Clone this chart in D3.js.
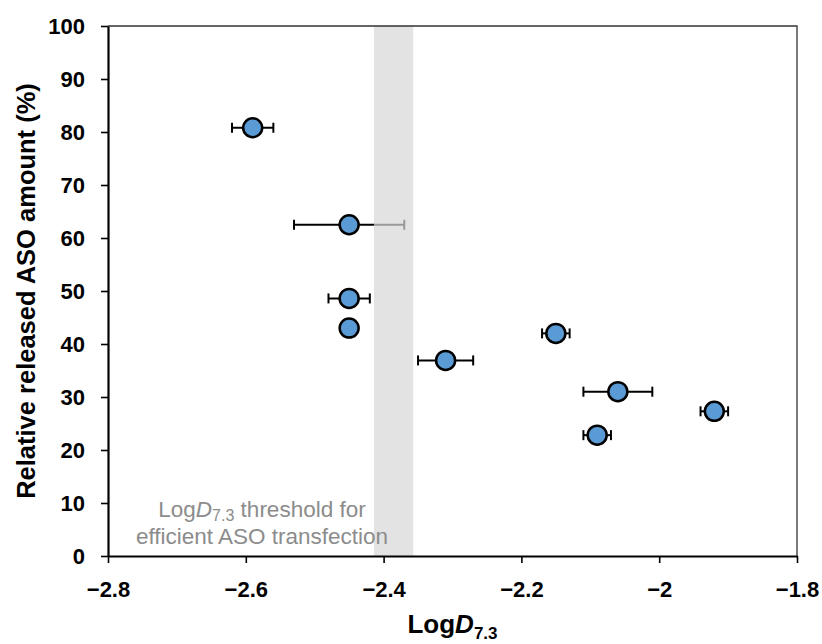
<!DOCTYPE html>
<html>
<head>
<meta charset="utf-8">
<script src="https://cdn.jsdelivr.net/npm/d3@7"></script>
<style>
  body { margin: 0; background: #fff; }
  svg { font-family: "Liberation Sans", Arial, sans-serif; }
</style>
</head>
<body>
<div id="chart"></div>
<script>
// data
const logD = [-2.59, -2.45, -2.45, -2.45, -2.31, -2.15, -2.06, -2.09, -1.92];
const released = [80.8, 62.5, 48.6, 43.0, 36.9, 42.0, 31.0, 22.8, 27.3];
const logDErr = [0.03, 0.08, 0.03, 0, 0.04, 0.02, 0.05, 0.02, 0.02];
const thresholdBand = [-2.414, -2.357];
const xTicks = [-2.8, -2.6, -2.4, -2.2, -2, -1.8];
const yTicks = [0, 10, 20, 30, 40, 50, 60, 70, 80, 90, 100];

const width = 822, height = 644;
const margin = { top: 26, right: 25, bottom: 88, left: 108 };

const svg = d3.select("#chart").append("svg")
  .attr("width", width)
  .attr("height", height);

const x = d3.scaleLinear().domain([-2.8, -1.8]).range([margin.left, width - margin.right]);
const y = d3.scaleLinear().domain([0, 100]).range([height - margin.bottom, margin.top]);

// threshold band
const bx0 = x(thresholdBand[0]), bx1 = x(thresholdBand[1]);
svg.append("rect")
  .attr("x", bx0)
  .attr("y", y(100))
  .attr("width", bx1 - bx0)
  .attr("height", y(0) - y(100))
  .attr("fill", "#e3e3e3");

// frame (top and right)
svg.append("path")
  .attr("d", `M${x(-2.8)},${y(100)}H${x(-1.8)}V${y(0)}`)
  .attr("fill", "none")
  .attr("stroke", "#333")
  .attr("stroke-width", 1.3);

// axes
const xAxis = svg.append("g")
  .attr("transform", `translate(0,${y(0)})`)
  .call(d3.axisBottom(x).tickValues(xTicks).tickSize(7).tickPadding(18).tickSizeOuter(0)
    .tickFormat(d3.format("")));
const yAxis = svg.append("g")
  .attr("transform", `translate(${x(-2.8)},0)`)
  .call(d3.axisLeft(y).tickValues(yTicks).tickSize(7).tickPadding(16).tickSizeOuter(0));

[xAxis, yAxis].forEach(g => {
  g.attr("font-family", null).attr("font-size", null);
  g.select(".domain").attr("stroke", "#000").attr("stroke-width", 2.2);
  g.selectAll(".tick line").attr("stroke", "#000").attr("stroke-width", 1.6);
  g.selectAll(".tick text")
    .attr("fill", "#000")
    .attr("font-size", 22)
    .attr("font-weight", "bold");
});

// threshold annotation
const note = svg.append("text")
  .attr("text-anchor", "middle")
  .attr("fill", "#8c8c8c")
  .attr("font-size", 22.5);
const l1 = note.append("tspan").attr("x", 262).attr("y", 517);
l1.append("tspan").text("Log");
l1.append("tspan").attr("font-style", "italic").text("D");
l1.append("tspan").attr("font-size", 16).attr("dy", 4).text("7.3");
l1.append("tspan").attr("dy", -4).text(" threshold for");
note.append("tspan").attr("x", 262).attr("y", 543.5).text("efficient ASO transfection");

// error bars: the part lying over the grey band is drawn in grey
const pts = logD.map((v, i) => ({ x: v, y: released[i], e: logDErr[i] }));
const bars = svg.append("g").attr("stroke-width", 2);
const inBand = px => px >= bx0 && px <= bx1;
pts.filter(d => d.e > 0).forEach(d => {
  const x0 = x(d.x - d.e), x1 = x(d.x + d.e), yy = y(d.y);
  const segs = [[x0, Math.min(x1, Math.max(x0, bx0)), "#000"],
                [Math.max(x0, bx0), Math.min(x1, bx1), "#999"],
                [Math.max(x0, bx1), x1, "#000"]];
  segs.filter(s => s[1] > s[0]).forEach(s => {
    bars.append("line").attr("x1", s[0]).attr("x2", s[1]).attr("y1", yy).attr("y2", yy)
      .attr("stroke", s[2]);
  });
  [x0, x1].forEach(cx => {
    bars.append("line").attr("x1", cx).attr("x2", cx).attr("y1", yy - 5).attr("y2", yy + 5)
      .attr("stroke", inBand(cx) ? "#999" : "#000");
  });
});

// points
svg.append("g")
  .selectAll("circle")
  .data(pts)
  .join("circle")
  .attr("cx", d => x(d.x))
  .attr("cy", d => y(d.y))
  .attr("r", 9.5)
  .attr("fill", "#5b9bd5")
  .attr("stroke", "#000")
  .attr("stroke-width", 2.5);

// axis titles
const xt = svg.append("text")
  .attr("x", (x(-2.8) + x(-1.8)) / 2)
  .attr("y", 633)
  .attr("text-anchor", "middle")
  .attr("font-size", 26)
  .attr("font-weight", "bold");
xt.append("tspan").text("Log");
xt.append("tspan").attr("font-style", "italic").text("D");
xt.append("tspan").attr("font-size", 17).attr("dy", 6).text("7.3");

svg.append("text")
  .attr("transform", `translate(35,${(y(0) + y(100)) / 2}) rotate(-90)`)
  .attr("text-anchor", "middle")
  .attr("font-size", 25.5)
  .attr("font-weight", "bold")
  .text("Relative released ASO amount (%)");
</script>
</body>
</html>
